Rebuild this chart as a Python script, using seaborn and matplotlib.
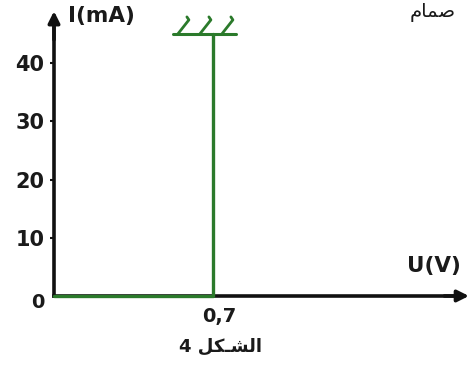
import matplotlib
matplotlib.use("Agg")
import matplotlib.pyplot as plt
import matplotlib.transforms as mtransforms
import seaborn as sns
import pandas as pd

# Diode I-U characteristic (ideal threshold model)
u_volts = [0.0, 0.7, 0.7]
i_milliamps = [0.0, 0.0, 45.0]
threshold_v = 0.7
y_tick_values = [10, 20, 30, 40]
y_tick_labels = ["10", "20", "30", "40"]
x_tick_labels = ["0,7"]

GREEN = "#2b7a2b"
BLACK = "#111111"

sns.set_theme(style="white")
plt.rcParams["font.family"] = ["DejaVu Sans"]

fig = plt.figure(figsize=(4.70, 3.65), dpi=100)
fig.patch.set_facecolor("white")
ax = fig.add_axes([0, 0, 1, 1])
ax.set_facecolor("white")

df = pd.DataFrame({"U": u_volts, "I": i_milliamps})
sns.lineplot(data=df, x="U", y="I", sort=False, estimator=None,
             color=GREEN, linewidth=2.4, ax=ax, zorder=4)

ax.set_xlim(-0.2379, 1.8326)
ax.set_ylim(-11.85, 50.82)
ax.set_xlabel("")
ax.set_ylabel("")

# axes through the origin with arrow heads
for side in ("top", "right"):
    ax.spines[side].set_visible(False)
for side in ("left", "bottom"):
    ax.spines[side].set_position(("data", 0))
    ax.spines[side].set_linewidth(2.6)
    ax.spines[side].set_color(BLACK)
ax.spines["left"].set_bounds(0, 46)
ax.spines["bottom"].set_bounds(0, 1.77)
u_tip = 1.828
ax.annotate("", xy=(0, 48.9), xytext=(0, 44),
            arrowprops=dict(arrowstyle="-|>", color=BLACK, lw=2.6,
                            mutation_scale=17, shrinkA=0, shrinkB=0),
            annotation_clip=False)
ax.annotate("", xy=(u_tip, 0), xytext=(1.72, 0),
            arrowprops=dict(arrowstyle="-|>", color=BLACK, lw=2.6,
                            mutation_scale=17, shrinkA=0, shrinkB=0),
            annotation_clip=False)

ax.set_yticks(y_tick_values, y_tick_labels)
ax.tick_params(axis="y", direction="out", length=3, width=1.5, color=BLACK,
               pad=4, labelsize=15, labelcolor="#1a1a1a", left=True)
for lab in ax.get_yticklabels():
    lab.set_fontweight("bold")

ax.set_xticks([threshold_v], x_tick_labels)
ax.tick_params(axis="x", length=0, pad=8, labelsize=14,
               labelcolor="#1a1a1a", bottom=True)
shift = mtransforms.ScaledTranslation(6 / 100, 0, fig.dpi_scale_trans)
for lab in ax.get_xticklabels():
    lab.set_fontweight("bold")
    lab.set_transform(lab.get_transform() + shift)

# origin label
ax.annotate("0", xy=(0, 0), xytext=(-16, -7), textcoords="offset pixels",
            ha="center", va="center", fontsize=14, fontweight="bold",
            color="#1a1a1a")

# axis titles
ax.annotate("I(mA)", xy=(0, 48.9), xytext=(14, -5), textcoords="offset pixels",
            ha="left", va="center", fontsize=15.5, fontweight="bold",
            color="#1a1a1a", annotation_clip=False)
ax.annotate("U(V)", xy=(u_tip, 0), xytext=(-35, 30), textcoords="offset pixels",
            ha="center", va="center", fontsize=15.5, fontweight="bold",
            color="#1a1a1a", annotation_clip=False)

# hatching at the top of the conducting branch
i_top = max(i_milliamps)
du_px = 1 / 227.0
di_px = 1 / 5.825
ax.plot([threshold_v - 40 * du_px, threshold_v + 23 * du_px], [i_top, i_top],
        color=GREEN, lw=2.2, solid_capstyle="round", zorder=4)
for off in (-35, -13, 9):
    x0 = threshold_v + off * du_px
    ax.plot([x0, x0 + 11 * du_px, x0 + 9 * du_px],
            [i_top, i_top + 14 * di_px, i_top + 17 * di_px],
            color=GREEN, lw=2.0, solid_capstyle="round", zorder=4)

# caption: "الشكل 4" (visual order, shaped forms)
caption = "4 " + "\uFEDE\uFEDC\u0640\uFEB8\uFEDF\uFE8D"
ax.annotate(caption, xy=(threshold_v, 0), xytext=(8, -51),
            textcoords="offset pixels", ha="center", va="center",
            fontsize=13, fontweight="bold", color="#1a1a1a")

# partial heading at the top right: "صمام"
fig.text(410 / 470, 1 - 12 / 365, "\uFEE1\uFE8E\uFEE4\uFEBB",
         ha="left", va="center", fontsize=14, color="#1a1a1a")

ax.grid(False)
fig.savefig("out.png", dpi=100, facecolor="white")
